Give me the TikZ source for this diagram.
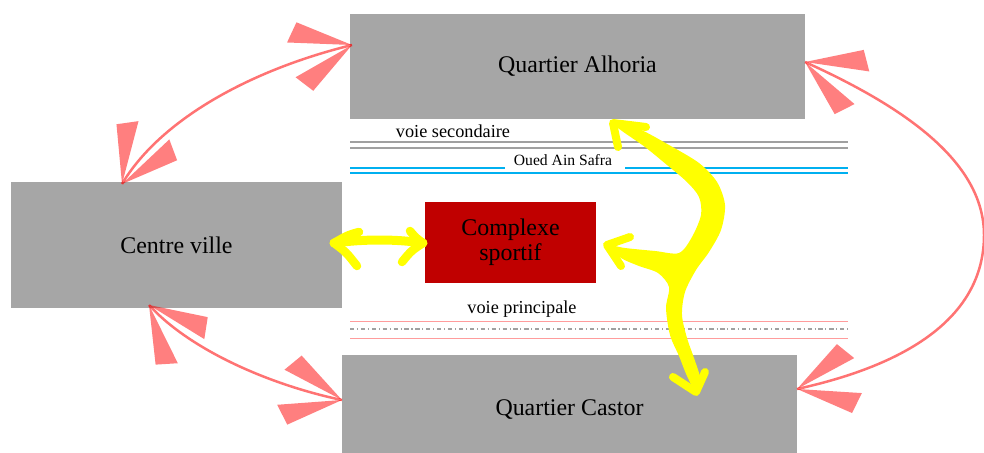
\documentclass[tikz,border=0pt]{standalone}
\usepackage{fontspec}
\setmainfont{Liberation Serif}
\usetikzlibrary{decorations.markings}
\definecolor{boxgray}{HTML}{A6A6A6}
\definecolor{cred}{HTML}{C00000}
\definecolor{yel}{HTML}{FFFF00}
\definecolor{blueline}{HTML}{00B0F0}
\definecolor{grayline}{HTML}{A0A0A0}
\definecolor{pinkline}{HTML}{FF9C9C}
\newcommand\fanwedges[1]{%
  \fill[red, fill opacity=0.5] (0,0) -- (#1+16:1.3cm) -- (#1+36:1.2cm) -- cycle;
  \fill[red, fill opacity=0.5] (0,0) -- (#1-16:1.3cm) -- (#1-36:1.2cm) -- cycle;}
\tikzset{
  box/.style={fill=boxgray, inner sep=0pt, font=\fontsize{13.6}{16}\selectfont},
  redlink/.style={draw=red, draw opacity=0.55, line width=0.05cm,
    postaction={decorate, decoration={markings,
      mark=at position 0 with {\fanwedges{0}},
      mark=at position 0.9999 with {\fanwedges{180}}}}},
  yarm/.style={draw=yel, line width=0.16cm, line cap=round, line join=round},
  lbl/.style={inner sep=0pt, font=\fontsize{10.4}{12}\selectfont},
  lblsmall/.style={inner sep=0pt, font=\fontsize{8.9}{10}\selectfont},
}
\begin{document}
\begin{tikzpicture}[x=0.02cm, y=-0.02cm]
\useasboundingbox (0,0) rectangle (984,453);

% roads and river
\draw[grayline, line width=0.03cm] (350,142) -- (848,142);
\draw[grayline, line width=0.03cm] (350,148) -- (848,148);
\draw[blueline, line width=0.04cm] (350,167.5) -- (505,167.5);
\draw[blueline, line width=0.04cm] (625,167.5) -- (848,167.5);
\draw[blueline, line width=0.04cm] (350,172.5) -- (848,172.5);
\draw[pinkline, line width=0.025cm] (350,321.5) -- (848,321.5);
\draw[pinkline, line width=0.025cm] (350,338.5) -- (848,338.5);
\draw[grayline, line width=0.03cm, dash pattern=on 2.4pt off 1.6pt on 0.6pt off 1.6pt] (350,329) -- (848,329);

\node[lbl] (vs) at (453,131) {voie secondaire};
\node[lblsmall] (oas) at (563,160.5) {Oued Ain Safra};
\node[lbl] (vp) at (522,309) {voie principale};

% boxes
\node[box, minimum width=9.1cm, minimum height=2.1cm] (alh) at (577.5,66.5) {Quartier Alhoria};
\node[box, minimum width=6.62cm, minimum height=2.52cm] (cv) at (176.5,245) {Centre ville};
\node[box, minimum width=9.1cm, minimum height=2.2cm] (cas) at (569.5,410) {Quartier Castor};
\node[fill=cred, inner sep=0pt, minimum width=3.42cm, minimum height=1.62cm, align=center,
      font=\fontsize{13.6}{14.3}\selectfont] (cs) at (510.5,242.5) {Complexe\\sportif};

% red links
\coordinate (alhW) at (352,45);
\coordinate (cvN) at (122,184);
\coordinate (alhE) at (805,62);
\coordinate (casE) at (797,389);
\coordinate (cvS) at (149,305);
\coordinate (casW) at (342,400);
\coordinate (bend) at (984,235);
\draw[redlink] (alhW) .. controls (250,70) and (160,120) .. (cvN);
\draw[redlink] (alhE) .. controls (900,105) and (984,160) .. (bend)
                      .. controls (984,310) and (920,362) .. (casE);
\draw[redlink] (cvS) .. controls (190,350) and (270,385) .. (casW);

% yellow double arrow centre ville <-> complexe
\coordinate (ya) at (334,243);
\coordinate (yb) at (423,243);
\draw[yarm, line width=0.18cm] (ya) .. controls (365,239) and (395,239) .. (yb);
\draw[yarm, line width=0.17cm] (359,232) .. controls (348,235) .. (ya) .. controls (346,252) .. (357,266);
\draw[yarm, line width=0.17cm] (410,231) .. controls (416,238) .. (yb) .. controls (411,251) .. (402,262);

% yellow three-way arrow
\fill[yel] plot[smooth cycle, tension=0.5] coordinates {
  (613,123) (639,129) (669,145) (699,163) (717,182) (725,205) (721,230) (709,252) (696,270)
  (685,292) (682,315) (687,338) (694,358) (700,378) (696,392)
  (687,376) (679,356) (670,335) (666,308) (669,287)
  (658,273) (639,266) (621,258) (607,245)
  (625,248) (655,251) (679,253)
  (692,237) (701,215) (699,197) (687,182) (667,165) (645,147) (622,131)};
\draw[yarm] (618,147) -- (613,123) -- (646,127);
\draw[yarm] (630,237) -- (607,245) -- (621,266);
\draw[yarm] (673,377) -- (696,392) -- (705,372);
\end{tikzpicture}
\end{document}
